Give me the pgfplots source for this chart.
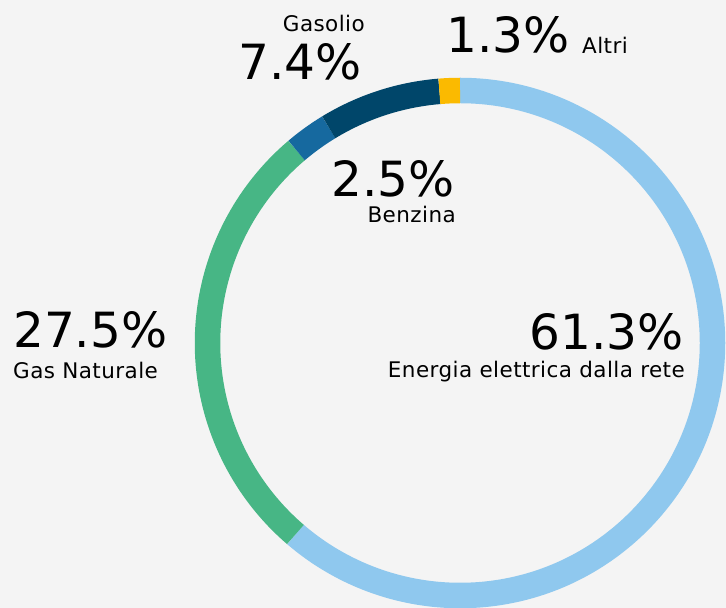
\documentclass[border=0pt]{standalone}
\usepackage{pgfplots}
\usepackage{pgfplotstable}
\pgfplotsset{compat=1.18}
\usepackage{fontspec}
\setmainfont{DejaVu Sans}
\definecolor{bgc}{HTML}{F4F4F4}
\definecolor{c0}{HTML}{8FC8EE}
\definecolor{c1}{HTML}{47B685}
\definecolor{c2}{HTML}{16699F}
\definecolor{c3}{HTML}{00466A}
\definecolor{c4}{HTML}{FBBA00}

% share of each source, clockwise from 12 o'clock
\pgfplotstableread{
idx value
0 61.3
1 27.5
2 2.5
3 7.4
4 1.3
}\sharetable

% cumulative angles
\pgfplotstablegetrowsof{\sharetable}
\pgfmathtruncatemacro{\nrows}{\pgfplotsretval-1}
\def\cum{90}
\foreach \i in {0,...,\nrows}{
  \pgfplotstablegetelem{\i}{value}\of{\sharetable}
  \pgfmathsetmacro{\endang}{\cum-3.6*\pgfplotsretval}
  \expandafter\xdef\csname startA\i\endcsname{\cum}
  \expandafter\xdef\csname endA\i\endcsname{\endang}
  \xdef\cum{\endang}
}

\newcommand{\bigpct}{\fontsize{48.5}{56}\selectfont}
\newcommand{\lab}{\fontsize{21.5}{24}\selectfont\addfontfeatures{LetterSpace=2}}

\begin{document}
\begin{tikzpicture}
\begin{axis}[
  x=1pt, y=1pt,
  xmin=0, xmax=726, ymin=0, ymax=608,
  hide axis,
  clip=true,
]
\fill[bgc] (axis cs:0,0) rectangle (axis cs:726,608);
\pgfplotsinvokeforeach{0,...,4}{
  \draw[line width=25.5pt, color=c#1, line cap=butt]
    (axis cs:460,265) ++(\csname startA#1\endcsname:252.5)
    arc[start angle=\csname startA#1\endcsname, end angle=\csname endA#1\endcsname, radius=252.5];
}
% labels (y = 608 - pixel row)
\node[anchor=base east, inner sep=0] at (axis cs:684,258) {\bigpct 61.3\%};
\node[anchor=base east, inner sep=0] at (axis cs:685,230) {\lab Energia elettrica dalla rete};
\node[anchor=base west, inner sep=0] at (axis cs:13,260) {\bigpct 27.5\%};
\node[anchor=base west, inner sep=0] at (axis cs:13,229) {\lab Gas Naturale};
\node[anchor=base east, inner sep=0] at (axis cs:455,411) {\bigpct 2.5\%};
\node[anchor=base east, inner sep=0] at (axis cs:456,385) {\lab Benzina};
\node[anchor=base east, inner sep=0] at (axis cs:362,528) {\bigpct 7.4\%};
\node[anchor=base east, inner sep=0] at (axis cs:365,576) {\lab Gasolio};
\node[anchor=base west, inner sep=0] at (axis cs:446,555) {\bigpct 1.3\%};
\node[anchor=base west, inner sep=0] at (axis cs:582,554) {\lab Altri};
\end{axis}
\end{tikzpicture}
\end{document}
